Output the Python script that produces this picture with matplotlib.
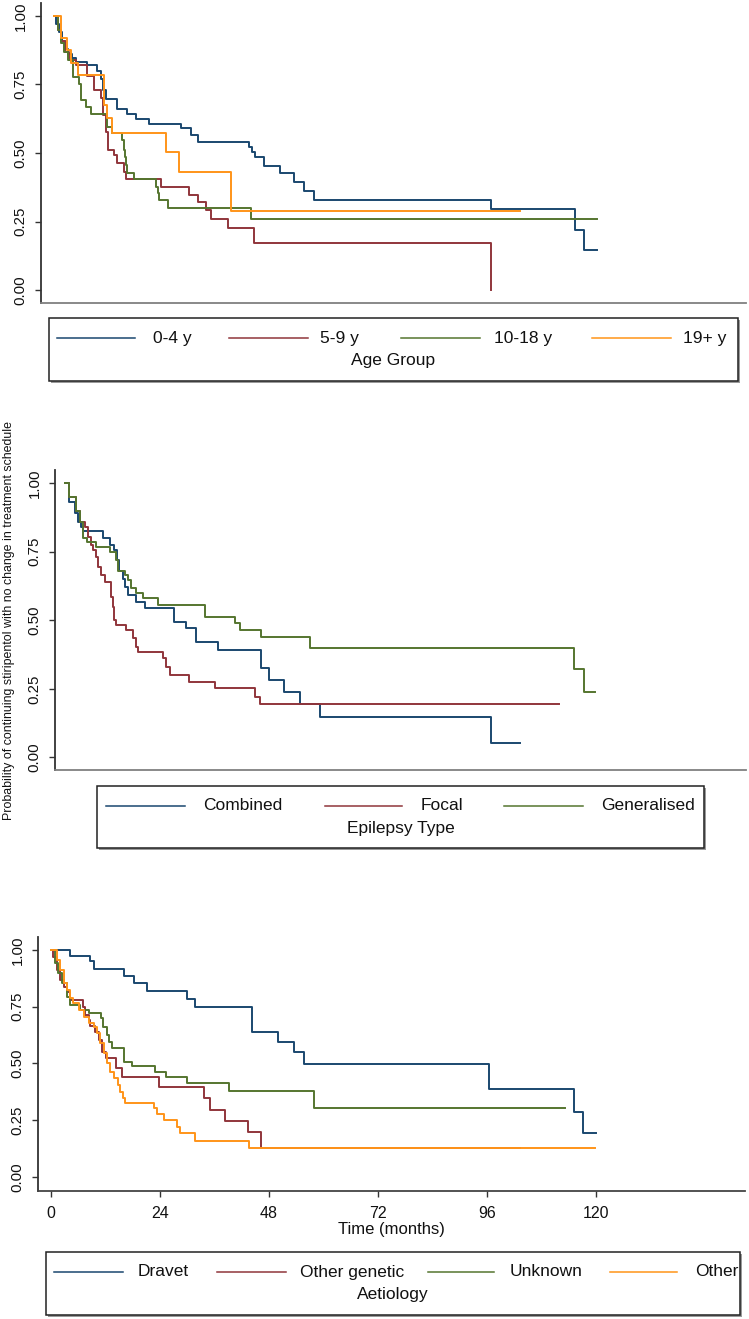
import numpy as np
import matplotlib
matplotlib.use('Agg')
import matplotlib.pyplot as plt
from matplotlib.patches import Rectangle
from matplotlib.ticker import FormatStrFormatter

plt.rcParams['font.family'] = ['Liberation Sans', 'DejaVu Sans']

# ---- data: drop times (months), survival after each drop, last follow-up ----
age_labels = ['0-4 y', '5-9 y', '10-18 y', '19+ y']
age_04_t = [0.5, 1.2, 1.8, 2.5, 3.2, 4.0, 4.8, 7.4, 9.6, 10.3, 10.8, 11.4, 14.0, 16.2, 18.1, 21.0, 28.0, 30.2, 31.7,
            43.1, 43.8, 44.4, 46.3, 49.8, 53.1, 55.3, 57.5, 96.4, 115.0, 117.1]
age_04_s = [0.97, 0.94, 0.91, 0.88, 0.86, 0.845, 0.833, 0.821, 0.80, 0.77, 0.73, 0.696, 0.659, 0.642, 0.624, 0.606, 0.590,
            0.566, 0.541, 0.523, 0.505, 0.487, 0.454, 0.426, 0.396, 0.363, 0.328, 0.296, 0.221, 0.148]
age_04_end = 119.8
age_59_t = [0.8, 1.6, 2.4, 3.3, 4.8, 7.2, 8.9, 10.3, 10.9, 11.4, 12.0, 13.3, 14.0, 15.5, 15.9, 23.6, 29.9, 31.7, 33.6,
            34.7, 38.4, 44.2, 96.4]
age_59_s = [0.95, 0.91, 0.87, 0.84, 0.821, 0.779, 0.730, 0.70, 0.64, 0.578, 0.511, 0.493, 0.462, 0.432, 0.404, 0.377,
            0.347, 0.320, 0.292, 0.259, 0.228, 0.170, 0.0]
age_59_end = 96.4
age_1018_t = [0.8, 1.5, 2.2, 3.0, 4.1, 5.6, 6.0, 7.0, 8.1, 11.8, 12.9, 15.1, 15.5, 15.7, 15.9, 16.2, 17.7, 22.5, 22.9,
              23.2, 25.1, 43.5]
age_1018_s = [0.95, 0.90, 0.87, 0.84, 0.777, 0.75, 0.693, 0.666, 0.642, 0.596, 0.574, 0.547, 0.511, 0.487, 0.456, 0.426,
              0.404, 0.377, 0.353, 0.328, 0.298, 0.259]
age_1018_end = 119.8
age_19_t = [1.5, 2.97, 3.7, 5.2, 11.1, 11.8, 12.9, 24.7, 27.7, 39.1]
age_19_s = [0.918, 0.875, 0.827, 0.785, 0.675, 0.627, 0.574, 0.502, 0.43, 0.287]
age_19_end = 103.0

type_labels = ['Combined', 'Focal', 'Generalised']
comb_t = [0.9, 2.2, 2.97, 3.7, 4.2, 8.6, 10.1, 11.2, 11.7, 12.3, 13.1, 13.5, 14.2, 16.1, 18.0, 24.7, 27.4, 29.6, 34.5,
          44.3, 46.1, 49.5, 52.9, 57.4, 96.1]
comb_s = [0.93, 0.89, 0.86, 0.84, 0.824, 0.799, 0.775, 0.757, 0.72, 0.678, 0.65, 0.623, 0.592, 0.568, 0.544, 0.495,
          0.471, 0.422, 0.392, 0.325, 0.282, 0.240, 0.195, 0.146, 0.051]
comb_end = 102.6
focal_t = [0.9, 2.6, 3.4, 4.5, 5.2, 6.0, 6.3, 6.95, 7.5, 8.2, 9.0, 10.5, 10.85, 11.2, 11.6, 13.9, 15.4, 16.0, 16.5,
           22.1, 22.9, 23.6, 28.1, 33.8, 42.8, 43.9]
focal_s = [0.95, 0.90, 0.86, 0.84, 0.805, 0.775, 0.757, 0.73, 0.696, 0.665, 0.641, 0.586, 0.55, 0.50, 0.483, 0.465,
           0.434, 0.404, 0.386, 0.361, 0.331, 0.300, 0.276, 0.252, 0.22, 0.195]
focal_end = 111.3
gen_t = [0.9, 2.6, 3.4, 4.1, 4.9, 7.1, 10.1, 11.6, 12.0, 13.5, 14.2, 15.0, 16.1, 17.6, 21.0, 31.5, 38.3, 39.4, 44.3,
         55.2, 114.8, 116.9]
gen_s = [0.95, 0.90, 0.86, 0.80, 0.787, 0.769, 0.75, 0.72, 0.678, 0.665, 0.647, 0.617, 0.598, 0.58, 0.556, 0.513, 0.489,
         0.465, 0.438, 0.398, 0.321, 0.240]
gen_end = 119.5

aet_labels = ['Dravet', 'Other genetic', 'Unknown', 'Other']
dravet_t = [4.1, 8.6, 9.4, 16.0, 18.2, 21.1, 29.9, 31.7, 44.3, 49.9, 53.4, 55.6, 96.5, 115.2, 117.2]
dravet_s = [0.975, 0.949, 0.915, 0.885, 0.856, 0.821, 0.784, 0.750, 0.637, 0.596, 0.548, 0.496, 0.386, 0.287, 0.194]
dravet_end = 120.0
othgen_t = [0.5, 1.3, 2.05, 2.8, 3.5, 4.1, 7.0, 7.55, 8.3, 8.65, 9.7, 10.5, 11.2, 12.2, 14.4, 15.6, 23.7, 33.6, 35.0,
            38.4, 43.3, 46.3]
othgen_s = [0.97, 0.912, 0.868, 0.838, 0.816, 0.779, 0.747, 0.713, 0.691, 0.665, 0.640, 0.603, 0.552, 0.522, 0.478,
            0.441, 0.397, 0.346, 0.294, 0.246, 0.199, 0.128]
othgen_end = 103.3
unknown_t = [0.9, 1.6, 2.4, 3.5, 4.2, 6.3, 8.3, 11.0, 11.5, 12.3, 12.7, 13.4, 16.1, 17.8, 23.0, 25.4, 30.0, 39.2, 57.8]
unknown_s = [0.943, 0.90, 0.853, 0.794, 0.757, 0.735, 0.720, 0.698, 0.661, 0.624, 0.595, 0.566, 0.507, 0.488, 0.463,
             0.441, 0.415, 0.379, 0.301]
unknown_end = 113.2
other_t = [1.3, 1.9, 2.8, 3.5, 4.2, 4.9, 6.1, 7.2, 8.3, 9.4, 10.1, 10.8, 11.6, 12.3, 13.0, 13.8, 14.7, 15.2, 15.8, 16.3,
           22.7, 23.3, 24.9, 27.7, 28.3, 31.8, 43.7]
other_s = [0.956, 0.912, 0.853, 0.824, 0.787, 0.765, 0.735, 0.703, 0.676, 0.659, 0.632, 0.588, 0.544, 0.500, 0.463,
           0.434, 0.404, 0.375, 0.346, 0.324, 0.302, 0.277, 0.250, 0.221, 0.191, 0.157, 0.127]
other_end = 119.8

x_ticks = [0, 24, 48, 72, 96, 120]
y_ticks = [0, 0.25, 0.5, 0.75, 1.0]

colors = ['#1a476f', '#90353b', '#55752f', '#ff9419']

panels = [
    ([(age_04_t, age_04_s, age_04_end), (age_59_t, age_59_s, age_59_end),
      (age_1018_t, age_1018_s, age_1018_end), (age_19_t, age_19_s, age_19_end)], age_labels, 'Age Group'),
    ([(comb_t, comb_s, comb_end), (focal_t, focal_s, focal_end), (gen_t, gen_s, gen_end)], type_labels, 'Epilepsy Type'),
    ([(dravet_t, dravet_s, dravet_end), (othgen_t, othgen_s, othgen_end),
      (unknown_t, unknown_s, unknown_end), (other_t, other_s, other_end)], aet_labels, 'Aetiology'),
]

W, H = 749, 1319
fig = plt.figure(figsize=(W / 100, H / 100), dpi=100)

# axes boxes in pixels: left, right, top, bottom ; y limits
ax_px = [(41, 746, 3, 303), (55, 746, 470, 770), (38, 745, 937, 1191)]
ylims = [(-0.047, 1.047), (-0.046, 1.048), (-0.063, 1.057)]
xlims = [(-2.86, 152.8), (-2.2, 153.5), (-2.86, 152.8)]

for i, (series, labels, title) in enumerate(panels):
    l, r, t, b = ax_px[i]
    ax = fig.add_axes([l / W, 1 - b / H, (r - l) / W, (b - t) / H])
    for (tt, ss, end), c in zip(series, colors):
        xs = np.r_[0, tt, end]
        ys = np.r_[1, ss, ss[-1]]
        ax.step(xs, ys, where='post', color=c, lw=1.4)
    ax.set_xlim(*xlims[i])
    ax.set_ylim(*ylims[i])
    ax.spines['top'].set_visible(False)
    ax.spines['right'].set_visible(False)
    ax.spines['left'].set_color('#333333')
    ax.spines['left'].set_linewidth(1.3)
    ax.spines['bottom'].set_color('#444444' if i == 2 else '#808080')
    ax.spines['bottom'].set_linewidth(1.3)
    ax.set_yticks(y_ticks)
    ax.yaxis.set_major_formatter(FormatStrFormatter('%.2f'))
    ax.tick_params(axis='y', length=4.5, width=1, color='#333333', pad=5, labelsize=10.8, labelcolor='#111111')
    for lb in ax.get_yticklabels():
        lb.set_rotation(90)
        lb.set_va('center')
    if i == 2:
        ax.set_xticks(x_ticks)
        ax.tick_params(axis='x', length=4.5, width=1, color='#333333', pad=6, labelsize=11.5, labelcolor='#111111')
        ax.set_xlabel('Time (months)', fontsize=12, color='#111111', labelpad=1)
    else:
        ax.set_xticks([])

# overlay in pixel coordinates for legends and the shared y label
ov = fig.add_axes([0, 0, 1, 1])
ov.set_xlim(0, W)
ov.set_ylim(H, 0)
ov.axis('off')

leg_boxes = [(49, 738, 318, 381), (97, 704, 786, 848), (46, 740, 1252, 1315)]
leg_keys = [
    [(57, 135, 153), (229, 308, 320), (401, 480, 494), (592, 671, 683)],
    [(106, 185, 203), (325, 402, 421), (504, 583, 601)],
    [(54, 123, 138), (217, 286, 300), (428, 494, 510), (610, 677, 695)],
]
for (series, labels, title), box, keys in zip(panels, leg_boxes, leg_keys):
    l, r, t, b = box
    ov.add_patch(Rectangle((l + 1.5, t + 1.5), r - l, b - t, fc='#9a9a9a', ec='none'))
    ov.add_patch(Rectangle((l, t), r - l, b - t, fc='white', ec='#222222', lw=1.1))
    row = t + 20
    for (x0, x1, xt), lab, c in zip(keys, labels, colors):
        ov.plot([x0, x1], [row, row], color=c, lw=1.1)
        ov.text(xt, row, lab, fontsize=12.5, color='#111111', va='center', ha='left')
    ov.text((l + r) / 2, t + 43, title, fontsize=12.5, color='#111111', va='center', ha='center')

ov.text(9, 620, 'Probability of continuing stiripentol with no change in treatment schedule',
        rotation=90, fontsize=8.9, color='#111111', va='center', ha='center')

fig.savefig('out.png', dpi=100)
